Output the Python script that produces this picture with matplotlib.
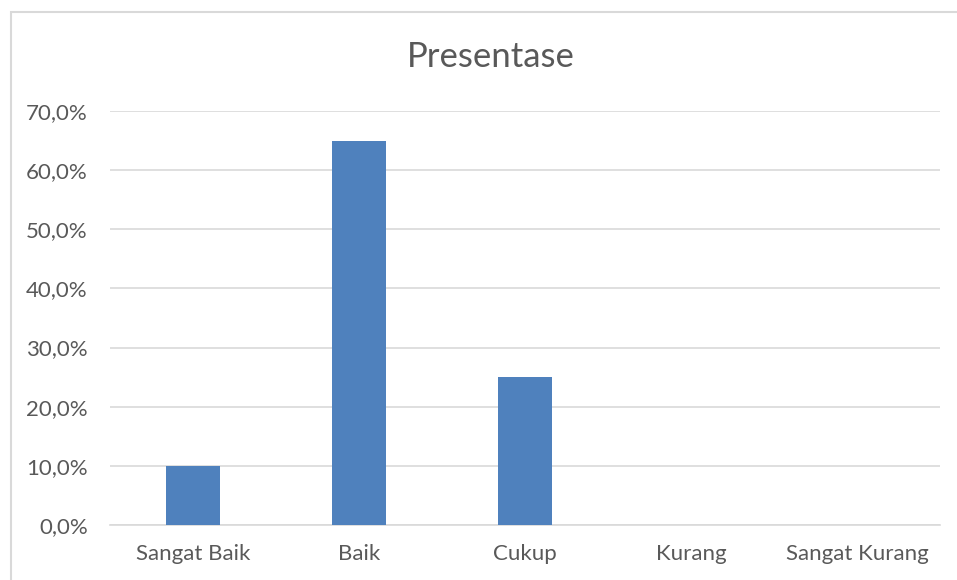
import matplotlib.pyplot as plt
from matplotlib.patches import Rectangle
from matplotlib.ticker import FuncFormatter

categories = ["Sangat Baik", "Baik", "Cukup", "Kurang", "Sangat Kurang"]
values = [0.10, 0.65, 0.25, 0.0, 0.0]
yticks = [0.0, 0.1, 0.2, 0.3, 0.4, 0.5, 0.6, 0.7]

plt.rcParams['font.family'] = ['Lato', 'DejaVu Sans']
text_color = "#595959"
grid_color = "#D9D9D9"

fig = plt.figure(figsize=(9.57, 5.8), dpi=100)
fig.patches.append(Rectangle((10.5 / 957, -0.1), 1.2, 1 - 11.5 / 580 + 0.1,
                             transform=fig.transFigure, fill=False,
                             edgecolor=grid_color, linewidth=1.5))

ax = fig.add_axes([110 / 957, 1 - 525 / 580, 830 / 957, (525 - 111) / 580])
x = range(len(categories))
ax.bar(x, values, width=0.32, color="#4F81BD", zorder=3)

ax.set_xlim(-0.5, len(categories) - 0.5)
ax.set_ylim(0, 0.7)
ax.set_yticks(yticks)
ax.yaxis.set_major_formatter(FuncFormatter(lambda v, p: f"{v * 100:.1f}%".replace(".", ",")))
ax.set_xticks(list(x))
ax.set_xticklabels(categories)
ax.grid(axis="y", color=grid_color, linewidth=1.2, zorder=0)
for s in ["top", "right", "left"]:
    ax.spines[s].set_visible(False)
ax.spines["bottom"].set_color(grid_color)
ax.spines["bottom"].set_linewidth(1.2)
ax.tick_params(length=0, labelsize=16, colors=text_color)
ax.tick_params(axis="y", pad=16)
ax.tick_params(axis="x", pad=14)

fig.text(491 / 957, 1 - 57 / 580, "Presentase", ha="center", va="center",
         fontsize=25, color=text_color)

fig.savefig("out.png", dpi=100)
